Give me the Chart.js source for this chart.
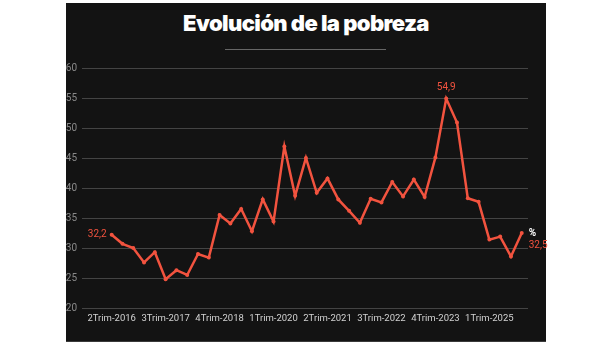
<!DOCTYPE html>
<html lang="es">
<head>
<meta charset="utf-8">
<script src="https://cdn.jsdelivr.net/npm/chart.js@4"></script>
<style>
  html, body { margin: 0; padding: 0; background: #fff; }
  body { width: 612px; height: 344px; position: relative; overflow: hidden; }
  #panel {
    position: absolute; left: 66px; top: 3px; width: 480px; height: 338px;
    background: #131313; border-bottom: 1px solid #3a3a3a;
  }
  #titulo {
    position: absolute; left: 0; top: 5px; width: 480px; margin: 0;
    text-align: center; color: #fff;
    font: 900 22px "Inter", "Roboto", sans-serif; letter-spacing: -0.6px;
    line-height: 30px;
  }
  #linea {
    position: absolute; left: 159px; top: 46px; width: 161px; height: 1px; background: #666;
  }
  #wrap { position: absolute; left: 0; top: 0; width: 612px; height: 344px; }
</style>
</head>
<body>
<div id="panel">
  <h1 id="titulo">Evolución de la pobreza</h1>
  <div id="linea"></div>
</div>
<div id="wrap"><canvas id="grafico" width="612" height="344"></canvas></div>
<script>
const trimestres = [
    '2Trim-2016', '3Trim-2016', '4Trim-2016', '1Trim-2017', '2Trim-2017',
    '3Trim-2017', '4Trim-2017', '1Trim-2018', '2Trim-2018', '3Trim-2018',
    '4Trim-2018', '1Trim-2019', '2Trim-2019', '3Trim-2019', '4Trim-2019',
    '1Trim-2020', '2Trim-2020', '3Trim-2020', '4Trim-2020', '1Trim-2021',
    '2Trim-2021', '3Trim-2021', '4Trim-2021', '1Trim-2022', '2Trim-2022',
    '3Trim-2022', '4Trim-2022', '1Trim-2023', '2Trim-2023', '3Trim-2023',
    '4Trim-2023', '1Trim-2024', '2Trim-2024', '3Trim-2024', '4Trim-2024',
    '1Trim-2025', '2Trim-2025', '3Trim-2025', '4Trim-2025'
];
const pobreza = [
    32.2, 30.7, 30.0, 27.6, 29.3, 24.8, 26.3, 25.5, 29.0, 28.4,
    35.5, 34.1, 36.5, 32.8, 38.1, 34.4, 46.9, 38.7, 45.0, 39.2,
    41.6, 38.1, 36.2, 34.2, 38.2, 37.6, 41.0, 38.6, 41.4, 38.5,
    45.1, 54.9, 50.9, 38.3, 37.7, 31.4, 31.9, 28.6, 32.5
];
const marcasX = [0, 5, 10, 15, 20, 25, 30, 35];
const marcasY = [20, 25, 30, 35, 40, 45, 50, 55, 60];
// points that carry a value label
const rotulados = [0, 31, 38];

const rojo = '#f2533f';
const fmt = v => v.toFixed(1).replace('.', ',');

// value labels next to the first, peak and last points
const etiquetas = {
    id: 'etiquetas',
    afterDatasetsDraw(chart) {
        const ctx = chart.ctx;
        const pts = chart.getDatasetMeta(0).data;
        const last = pobreza.length - 1;
        ctx.save();
        ctx.font = '10px "Roboto", sans-serif';
        ctx.fillStyle = rojo;
        ctx.textBaseline = 'middle';
        rotulados.forEach(i => {
            const p = pts[i];
            if (i === 0) {
                ctx.textAlign = 'right';
                ctx.fillText(fmt(pobreza[i]), p.x - 5, p.y);
            } else if (i === last) {
                ctx.textAlign = 'left';
                ctx.fillText(fmt(pobreza[i]), p.x + 7, p.y + 12);
                ctx.fillStyle = '#fff';
                ctx.font = 'bold 10px "Roboto", sans-serif';
                ctx.fillText('%', p.x + 7, p.y);
                ctx.fillStyle = rojo;
                ctx.font = '10px "Roboto", sans-serif';
            } else {
                ctx.textAlign = 'center';
                ctx.fillText(fmt(pobreza[i]), p.x, p.y - 11);
            }
        });
        ctx.restore();
    }
};

new Chart(document.getElementById('grafico'), {
    type: 'line',
    data: {
        datasets: [{
            data: pobreza.map((v, i) => ({ x: i, y: v })),
            borderColor: rojo,
            backgroundColor: rojo,
            borderWidth: 2.5,
            pointRadius: 2,
            pointBorderWidth: 0,
            tension: 0
        }]
    },
    options: {
        responsive: false,
        animation: false,
        layout: { padding: { left: 62, right: 84, top: 68, bottom: 0 } },
        plugins: {
            legend: { display: false },
            tooltip: { enabled: false }
        },
        scales: {
            x: {
                type: 'linear',
                min: -2.75,
                max: 38.58,
                grid: { display: false, drawTicks: false },
                border: { display: false },
                afterBuildTicks: s => { s.ticks = marcasX.map(v => ({ value: v })); },
                afterFit: s => { s.height = 36; },
                ticks: {
                    color: '#d2d2d2',
                    font: { family: 'Roboto', size: 9.5 },
                    padding: 5,
                    maxRotation: 0,
                    autoSkip: false,
                    callback: v => trimestres[v]
                }
            },
            y: {
                min: 20,
                max: 60,
                grid: { color: '#444', drawTicks: false, lineWidth: 1 },
                border: { display: false },
                afterBuildTicks: s => { s.ticks = marcasY.map(v => ({ value: v })); },
                afterFit: s => { s.width = 20; },
                ticks: {
                    color: '#8a8a8a',
                    font: { family: 'Roboto', size: 10 },
                    padding: 5
                }
            }
        }
    },
    plugins: [etiquetas]
});
</script>
</body>
</html>
